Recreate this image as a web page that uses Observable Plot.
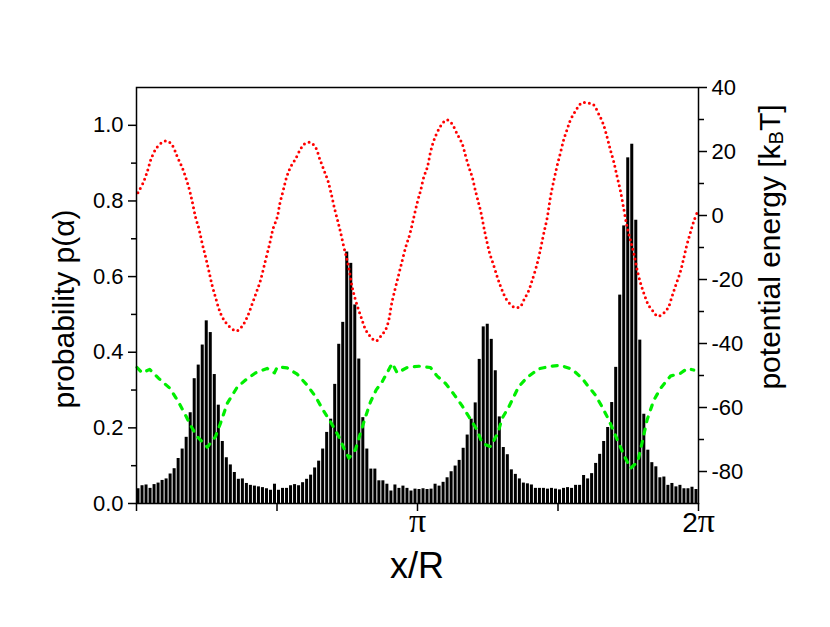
<!DOCTYPE html>
<html><head><meta charset="utf-8">
<script src="https://cdn.jsdelivr.net/npm/d3@7"></script>
<script src="https://cdn.jsdelivr.net/npm/@observablehq/plot@0.6"></script>
<style>
body{margin:0;background:#fff;}
#chart{width:830px;height:627px;}
</style></head><body><div id="chart"></div>
<script>
// ---- data ----
const nBins = 140; // histogram bins over [0, 2π]
const probability = [
 0.039,0.047,0.049,0.040,0.050,0.054,0.061,0.065,0.078,0.092,
 0.119,0.144,0.175,0.240,0.330,0.366,0.419,0.483,0.452,0.341,
 0.260,0.164,0.121,0.102,0.082,0.064,0.065,0.053,0.048,0.046,
 0.044,0.042,0.039,0.035,0.051,0.035,0.040,0.040,0.047,0.050,
 0.047,0.055,0.064,0.075,0.094,0.112,0.144,0.188,0.223,0.315,
 0.421,0.479,0.665,0.635,0.525,0.382,0.227,0.144,0.091,0.091,
 0.060,0.060,0.051,0.033,0.049,0.040,0.046,0.040,0.033,0.038,
 0.037,0.039,0.037,0.038,0.051,0.046,0.056,0.068,0.084,0.099,
 0.114,0.146,0.181,0.223,0.266,0.381,0.467,0.474,0.434,0.351,
 0.229,0.148,0.129,0.089,0.077,0.065,0.054,0.052,0.049,0.040,
 0.040,0.040,0.038,0.040,0.038,0.036,0.040,0.042,0.040,0.048,
 0.048,0.074,0.065,0.079,0.106,0.130,0.164,0.201,0.267,0.360,
 0.551,0.734,0.914,0.950,0.749,0.432,0.236,0.141,0.108,0.097,
 0.068,0.070,0.048,0.053,0.044,0.048,0.039,0.039,0.043,0.037];

// red dotted potential: x in units of π, energy in kBT
const redX = [0.005,0.026,0.040,0.052,0.071,0.091,0.109,0.127,0.145,0.163,0.177,0.189,0.198,0.210,0.222,0.234,0.246,0.257,0.269,0.281,0.293,0.305,0.323,0.355,0.374,0.394,0.412,0.427,0.441,0.459,0.474,0.486,0.501,0.510,0.522,0.534,0.548,0.566,0.584,0.598,0.617,0.637,0.652,0.667,0.681,0.693,0.705,0.716,0.726,0.738,0.747,0.757,0.765,0.773,0.785,0.801,0.816,0.833,0.852,0.872,0.887,0.899,0.907,0.919,0.931,0.943,0.958,0.973,0.987,1.001,1.011,1.022,1.035,1.046,1.058,1.076,1.094,1.106,1.123,1.141,1.159,1.171,1.183,1.195,1.206,1.218,1.227,1.236,1.246,1.257,1.269,1.284,1.295,1.308,1.319,1.343,1.364,1.378,1.396,1.408,1.426,1.438,1.449,1.462,1.473,1.485,1.497,1.509,1.521,1.533,1.544,1.559,1.572,1.586,1.604,1.624,1.645,1.661,1.675,1.687,1.699,1.711,1.722,1.734,1.746,1.758,1.770,1.782,1.796,1.808,1.822,1.840,1.855,1.875,1.893,1.905,1.919,1.935,1.947,1.958,1.970,1.982,1.998];
const redE = [7.1,10.7,14.2,17.7,21.1,22.8,23.3,22.0,18.4,14.9,11.4,7.8,4.5,-0.5,-4.1,-8.8,-13.0,-17.1,-21.8,-25.5,-29.1,-31.7,-34.0,-36.1,-34.8,-31.7,-27.5,-23.9,-20.3,-14.0,-8.8,-4.1,-0.5,3.7,7.8,11.9,15.1,17.7,20.8,22.4,22.9,21.3,17.7,14.2,10.9,6.8,2.1,-1.6,-5.2,-9.9,-13.0,-17.1,-21.3,-24.4,-28.0,-32.2,-35.8,-37.9,-39.2,-37.4,-35.6,-32.2,-28.0,-23.4,-19.2,-15.0,-9.9,-5.7,-0.5,4.7,7.8,11.9,15.1,19.7,23.4,27.0,29.3,29.9,28.6,25.5,22.4,18.7,15.1,11.9,7.8,3.7,0.5,-3.6,-7.8,-11.9,-15.0,-19.2,-22.0,-24.8,-26.5,-28.6,-28.6,-26.5,-23.4,-20.3,-15.0,-10.4,-5.7,-0.5,5.7,10.9,15.6,19.7,23.9,27.0,29.8,32.2,34.0,35.3,35.1,34.8,31.7,28.6,24.4,20.3,16.6,11.9,7.8,2.1,-3.6,-7.8,-11.9,-17.1,-21.8,-24.9,-28.0,-30.1,-31.5,-30.6,-28.6,-25.5,-21.8,-17.7,-13.5,-9.4,-5.7,-2.1,1.6];

// green dashed potential
const greenX = [0.002,0.020,0.047,0.079,0.119,0.147,0.171,0.192,0.216,0.252,0.281,0.299,0.323,0.358,0.388,0.423,0.465,0.491,0.501,0.536,0.572,0.607,0.637,0.664,0.690,0.720,0.738,0.756,0.779,0.797,0.815,0.833,0.853,0.874,0.910,0.928,0.963,1.005,1.046,1.070,1.100,1.129,1.159,1.183,1.212,1.230,1.260,1.286,1.301,1.325,1.360,1.390,1.432,1.473,1.509,1.551,1.586,1.604,1.633,1.657,1.681,1.711,1.734,1.758,1.784,1.800,1.817,1.841,1.865,1.900,1.936,1.960,1.983];
const greenE = [-47.5,-49.2,-48.1,-50.9,-54.0,-57.9,-61.8,-65.5,-69.1,-72.4,-69.1,-64.9,-58.7,-53.7,-51.4,-49.2,-47.8,-49.2,-47.3,-47.6,-49.6,-53.0,-56.6,-60.8,-64.4,-69.1,-72.7,-75.8,-73.2,-68.0,-62.9,-58.2,-54.5,-52.0,-46.2,-49.2,-47.5,-47.1,-47.5,-50.2,-52.5,-55.8,-59.5,-62.9,-67.0,-71.2,-72.2,-68.0,-63.4,-59.8,-53.5,-50.6,-47.9,-47.1,-46.8,-48.1,-50.9,-53.0,-56.1,-59.8,-63.9,-70.1,-74.8,-79.0,-76.9,-70.7,-63.9,-57.7,-54.0,-50.2,-49.3,-47.8,-48.3];

const leftTicks = [0, 0.2, 0.4, 0.6, 0.8, 1.0];
const leftMinor = [0.1, 0.3, 0.5, 0.7, 0.9];
const rightTicks = [40, 20, 0, -20, -40, -60, -80];
const rightMinor = [30, 10, -10, -30, -50, -70];
const xTicksPi = [0, 0.5, 1, 1.5, 2];
const xLabelTicks = [1, 2];
const xTickLabels = ["π", "2π"];

const P_MAX = 1.1, E_MIN = -90, E_MAX = 40;
const eToP = e => (e - E_MIN) / (E_MAX - E_MIN) * P_MAX;
const pToE = p => Math.round(p / P_MAX * (E_MAX - E_MIN) + E_MIN);

const bars = probability.map((p, i) => ({x1: i * 2 * Math.PI / nBins, x2: (i + 1) * 2 * Math.PI / nBins, p}));
const red = redX.map((x, i) => ({x: x * Math.PI, e: redE[i]}));
const green = greenX.map((x, i) => ({x: x * Math.PI, e: greenE[i]}));

const plot = Plot.plot({
  width: 830, height: 627,
  marginLeft: 136, marginRight: 132, marginTop: 87, marginBottom: 124,
  style: {fontFamily: "'Liberation Sans', Arial, sans-serif", fontSize: "22px", color: "#000", background: "#fff"},
  x: {domain: [0, 2 * Math.PI]},
  y: {domain: [0, P_MAX]},
  marks: [
    Plot.rectY(bars, {x1: "x1", x2: "x2", y: "p", fill: "black", insetLeft: 0.5, insetRight: 0.5}),
    Plot.line(red, {x: "x", y: d => eToP(d.e), stroke: "#ff0000", strokeWidth: 3, strokeDasharray: "0 5", strokeLinecap: "round", curve: "catmull-rom"}),
    Plot.line(green, {x: "x", y: d => eToP(d.e), stroke: "#00ee00", strokeWidth: 3.2, strokeDasharray: "5 7.5", strokeLinecap: "round"}),
    Plot.frame({stroke: "black", strokeWidth: 1.5}),
    Plot.axisY({anchor: "left", ticks: leftTicks, tickFormat: d => d.toFixed(1), tickSize: 8, tickPadding: 5, strokeWidth: 1.5, label: null, fontSize: 22}),
    Plot.axisY({anchor: "left", ticks: leftMinor, tickFormat: () => "", tickSize: 5, strokeWidth: 1.5, label: null}),
    Plot.axisY({anchor: "right", ticks: rightTicks.map(eToP), tickFormat: d => String(pToE(d)), tickSize: 8, tickPadding: 5, strokeWidth: 1.5, label: null, fontSize: 22}),
    Plot.axisY({anchor: "right", ticks: rightMinor.map(eToP), tickFormat: () => "", tickSize: 5, strokeWidth: 1.5, label: null}),
    Plot.axisX({anchor: "bottom", ticks: xTicksPi.map(t => t * Math.PI), tickFormat: () => "", tickSize: 8, strokeWidth: 1.5, label: null}),
    Plot.axisX({anchor: "bottom", ticks: xLabelTicks.map(t => t * Math.PI), tickFormat: (d) => xTickLabels[Math.round(d / Math.PI) - 1], tickSize: 0, tickPadding: 9, label: null, fontSize: 28})
  ]
});
document.getElementById("chart").appendChild(plot);

const svg = d3.select(plot);
// serif pi glyphs
svg.selectAll("text").filter(function(){ return this.textContent.includes("π"); }).each(function(){
  const t = this.textContent;
  const el = d3.select(this);
  el.text(null);
  if (t.startsWith("2")) el.append("tspan").text("2");
  el.append("tspan").attr("font-family", "'Liberation Serif', 'DejaVu Serif', serif").attr("font-size", 34).text("π");
});

const titleFont = "'Liberation Sans', Arial, sans-serif";
svg.append("text").attr("x", 417).attr("y", 578).attr("text-anchor", "middle")
  .attr("font-family", titleFont).attr("font-size", 36).attr("fill", "#000").text("x/R");
svg.append("text").attr("transform", "translate(63,309) rotate(-90)").attr("text-anchor", "middle")
  .attr("dominant-baseline", "central").attr("font-family", titleFont).attr("font-size", 30).attr("fill", "#000")
  .text("probability p(α)");
const rt = svg.append("text").attr("transform", "translate(769,247) rotate(-90)").attr("text-anchor", "middle")
  .attr("dominant-baseline", "central").attr("font-family", titleFont).attr("font-size", 30).attr("fill", "#000");
rt.append("tspan").text("potential energy [k");
rt.append("tspan").attr("font-size", 20).attr("dy", 7).text("B");
rt.append("tspan").attr("dy", -7).text("T]");
</script></body></html>
